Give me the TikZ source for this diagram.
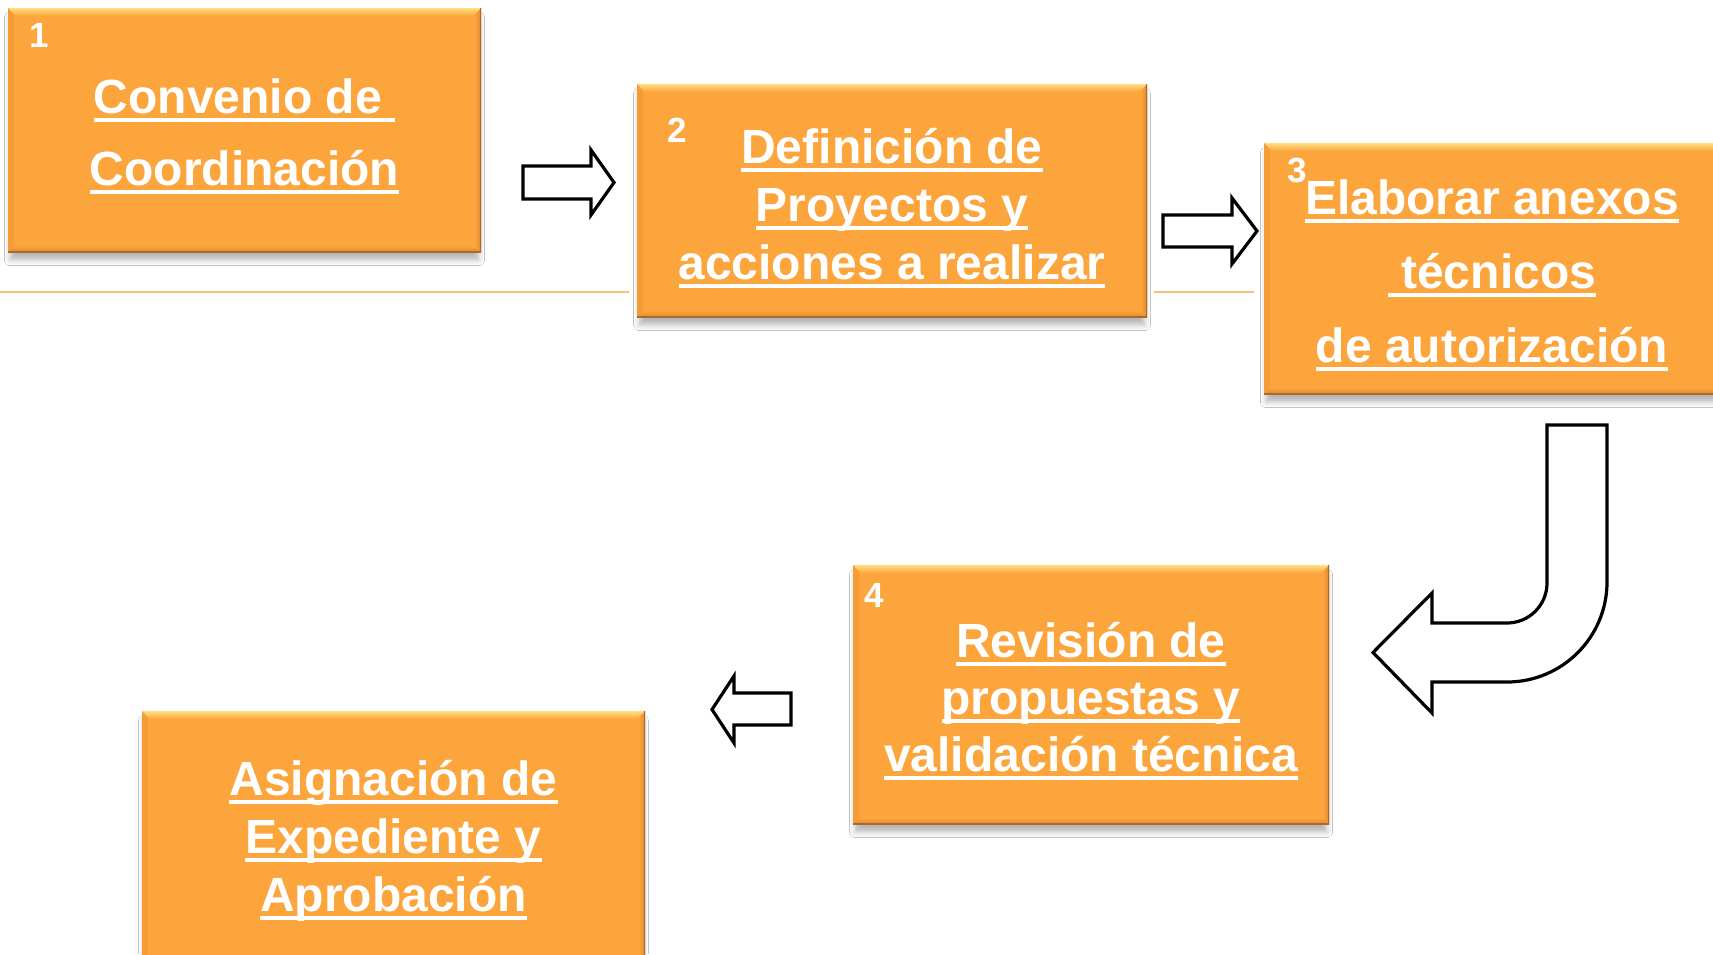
\documentclass[tikz,border=0pt]{standalone}
\usepackage{fontspec}
\setmainfont{Liberation Sans}
\usetikzlibrary{shadows.blur}
\definecolor{boxor}{RGB}{252,165,61}
\definecolor{boxtop}{RGB}{255,222,130}
\definecolor{boxleft}{RGB}{246,156,55}
\definecolor{boxdark}{RGB}{222,136,45}
\definecolor{boxedge}{RGB}{170,105,45}
\definecolor{sepline}{RGB}{249,190,120}
\newcommand\myul[1]{\setbox0=\hbox{#1}\rlap{\rule[-4.4pt]{\wd0}{2.1pt}}\box0}
\tikzset{
  obox/.style={rectangle, fill=boxor, inner sep=0pt,
    blur shadow={shadow xshift=0pt, shadow yshift=-4.5pt, shadow blur radius=3pt, shadow scale=0.99, shadow opacity=30},
    path picture={
      \coordinate (pnw) at (path picture bounding box.north west);
      \coordinate (pne) at (path picture bounding box.north east);
      \coordinate (psw) at (path picture bounding box.south west);
      \coordinate (pse) at (path picture bounding box.south east);
      \shade[top color=boxtop, bottom color=boxor] (pnw) -- (pne) -- ([xshift=-4pt,yshift=-4pt]pne) -- ([xshift=4pt,yshift=-4pt]pnw) -- cycle;
      \fill[boxleft] (pnw) -- ([xshift=3pt,yshift=-4pt]pnw) -- ([xshift=3pt,yshift=3pt]psw) -- (psw) -- cycle;
      \shade[left color=boxor, right color=boxdark] (pne) -- ([xshift=-3pt,yshift=-4pt]pne) -- ([xshift=-3pt,yshift=3pt]pse) -- (pse) -- cycle;
      \shade[top color=boxor, bottom color=boxdark] (psw) -- ([xshift=3pt,yshift=3pt]psw) -- ([xshift=-3pt,yshift=3pt]pse) -- (pse) -- cycle;
      \draw[boxedge, line width=1.4pt] (psw) -- (pse) -- (pne);
    }},
  txt/.style={anchor=base, inner sep=0pt, text=white, font=\bfseries\fontsize{24}{29}\selectfont},
  num/.style={anchor=base, inner sep=0pt, text=white, font=\bfseries\fontsize{17.5}{20}\selectfont},
  blockarrow/.style={draw=black, line width=1.6pt, fill=white, line join=miter},
}
\begin{document}
\begin{tikzpicture}[x=0.5pt,y=-0.5pt]
\useasboundingbox (0,0) rectangle (1713,954);
\clip (0,0) rectangle (1713,954);
\fill[white] (0,0) rectangle (1713,954);
% separator line
\draw[sepline, line width=0.8pt] (0,292) -- (629,292);
\draw[sepline, line width=0.8pt] (1154,292) -- (1254,292);
% boxes
\node[obox, minimum width=236.5pt, minimum height=122pt] (b1) at (244.5,130) {};
\node[obox, minimum width=255pt, minimum height=116.5pt] (b2) at (892,200.5) {};
\node[obox, minimum width=228pt, minimum height=125.5pt] (b3) at (1492,268.5) {};
\node[obox, minimum width=238pt, minimum height=129.5pt] (b4) at (1091,694.5) {};
\node[obox, minimum width=251.5pt, minimum height=124.5pt] (b5) at (393.5,835.5) {};
% numbers
\node[num] (n1) at (39,47) {1};
\node[num] (n2) at (677,142) {2};
\node[num] (n3) at (1297,182) {3};
\node[num] (n4) at (874,607) {4};
% texts
\node[txt] (t1a) at (244.5,113) {\myul{Convenio de }};
\node[txt] (t1b) at (244.5,185) {\myul{Coordinación}};
\node[txt] (t2a) at (892,163) {\myul{Definición de}};
\node[txt] (t2b) at (892,221) {\myul{Proyectos y}};
\node[txt] (t2c) at (892,279) {\myul{acciones a realizar}};
\node[txt] (t3a) at (1492,214) {\myul{Elaborar anexos}};
\node[txt] (t3b) at (1492,288) {\myul{ técnicos}};
\node[txt] (t3c) at (1492,362) {\myul{de autorización}};
\node[txt] (t4a) at (1091,657) {\myul{Revisión de}};
\node[txt] (t4b) at (1091,714) {\myul{propuestas y}};
\node[txt] (t4c) at (1091,771) {\myul{validación técnica}};
\node[txt] (t5a) at (393.5,795) {\myul{Asignación de}};
\node[txt] (t5b) at (393.5,853) {\myul{Expediente y}};
\node[txt] (t5c) at (393.5,911) {\myul{Aprobación}};
% block arrows
\draw[blockarrow] (523,166) -- (591,166) -- (591,150) -- (614,182.5) -- (591,215) -- (591,199) -- (523,199) -- cycle;
\draw[blockarrow] (1163,215) -- (1232,215) -- (1232,198) -- (1257,231) -- (1232,264) -- (1232,247) -- (1163,247) -- cycle;
\draw[blockarrow] (791,693) -- (734,693) -- (734,676) -- (712,709.5) -- (734,743) -- (734,725) -- (791,725) -- cycle;
\draw[blockarrow] (1547,425) -- (1607,425) -- (1607,582)
   .. controls (1607,637.2) and (1562.2,682) .. (1507,682)
   -- (1432,682) -- (1432,713) -- (1373,652.5) -- (1432,593) -- (1432,623) -- (1507,623)
   .. controls (1529.1,623) and (1547,605.1) .. (1547,583) -- cycle;
\end{tikzpicture}
\end{document}
